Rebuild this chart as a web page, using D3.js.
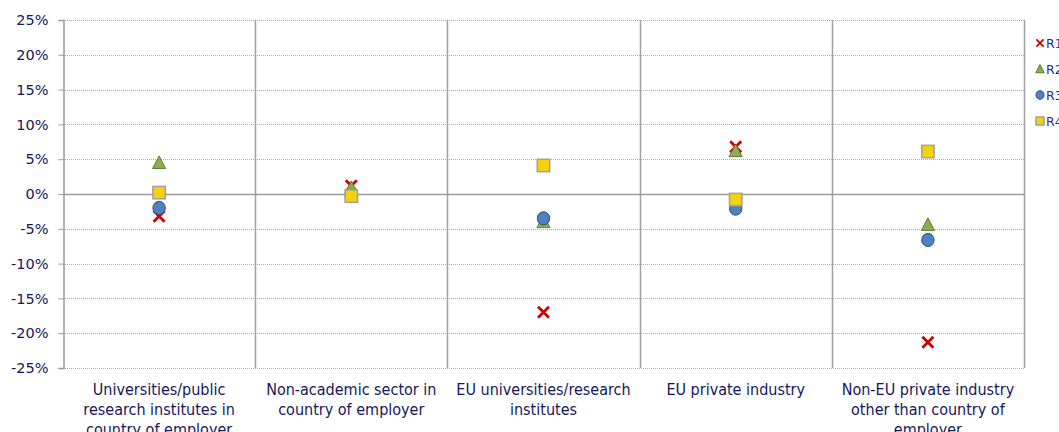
<!DOCTYPE html>
<html><head><meta charset="utf-8">
<script src="https://cdn.jsdelivr.net/npm/d3@7"></script>
<style>body{margin:0;background:#fff;} svg{display:block;}</style>
</head><body>
<svg id="c" width="1059" height="432"></svg>
<script>
const categories = [
  "Universities/public|research institutes in|country of employer",
  "Non-academic sector in|country of employer",
  "EU universities/research|institutes",
  "EU private industry",
  "Non-EU private industry|other than country of|employer"
];
const seriesNames = ["R1", "R2", "R3", "R4"];
const R1 = [-3.2, 1.2, -17.0, 6.8, -21.3];
const R2 = [4.5, 0.9, -4.0, 6.2, -4.4];
const R3 = [-2.0, -0.3, -3.5, -2.1, -6.6];
const R4 = [0.2, -0.3, 4.1, -0.8, 6.1];
const yTicks = [-25, -20, -15, -10, -5, 0, 5, 10, 15, 20, 25];

const seriesValues = [R1, R2, R3, R4];
const svg = d3.select("#c");
const m = {l: 63, r: 1024, t: 20, b: 368};
const x = d3.scaleBand().domain(categories).range([m.l, m.r]).padding(0);
const y = d3.scaleLinear().domain([-25, 25]).range([m.b, m.t]);
const textCol = "#16165a";

// horizontal gridlines
svg.append("g").selectAll("line").data(yTicks).join("line")
  .attr("x1", m.l).attr("x2", m.r)
  .attr("y1", d => Math.round(y(d)) + 0.5).attr("y2", d => Math.round(y(d)) + 0.5)
  .attr("stroke", d => d === 0 ? "#9a9a9a" : "#a8a8a8")
  .attr("stroke-width", d => d === 0 ? 1.5 : 1)
  .attr("stroke-dasharray", d => d === 0 ? null : "1,1");

// vertical separators
svg.append("g").selectAll("line").data(categories).join("line")
  .attr("x1", d => Math.round(x(d) + x.bandwidth()) + 0.5)
  .attr("x2", d => Math.round(x(d) + x.bandwidth()) + 0.5)
  .attr("y1", m.t).attr("y2", m.b)
  .attr("stroke", "#a0a0a0").attr("stroke-width", 1.5);

// y axis
const yAxis = d3.axisLeft(y).tickValues(yTicks).tickSize(5).tickPadding(10)
  .tickFormat(d => d + "%");
const ga = svg.append("g").attr("transform", `translate(${m.l + 0.5},0)`).call(yAxis);
ga.select(".domain").attr("stroke", "#9a9a9a").attr("stroke-width", 1.5);
ga.selectAll(".tick line").attr("stroke", "#9a9a9a");
ga.selectAll(".tick text").attr("fill", textCol)
  .style("font-family", "Verdana, 'DejaVu Sans', sans-serif").style("font-size", "14.5px");

// category labels
const gl = svg.append("g");
categories.forEach(c => {
  const lines = c.split("|");
  const t = gl.append("text").attr("x", x(c) + x.bandwidth() / 2).attr("y", 395)
    .attr("text-anchor", "middle").attr("fill", textCol)
    .style("font-family", "'DejaVu Sans Condensed', 'Liberation Sans Narrow', sans-serif")
    .style("font-size", "16px");
  lines.forEach((ln, i) => {
    t.append("tspan").attr("x", x(c) + x.bandwidth() / 2).attr("dy", i === 0 ? 0 : 20).text(ln);
  });
});

// marker drawing
function marker(g, s, cx, cy, scale) {
  const k = scale || 1;
  if (s === 0) {
    const a = 5.5 * k;
    g.append("path").attr("d", `M${cx - a},${cy - a}L${cx + a},${cy + a}M${cx - a},${cy + a}L${cx + a},${cy - a}`)
      .attr("stroke", "#d00000").attr("stroke-width", 2.8 * k).attr("fill", "none");
  } else if (s === 1) {
    const w = 6.5 * k, h = 6.8 * k;
    g.append("path").attr("d", `M${cx},${cy - h}L${cx + w},${cy + h * 0.85}L${cx - w},${cy + h * 0.85}Z`)
      .attr("fill", "#8fac50").attr("stroke", "#5e7a30").attr("stroke-width", 1);
  } else if (s === 2) {
    g.append("ellipse").attr("cx", cx).attr("cy", cy).attr("rx", 6.2 * k).attr("ry", 6.6 * k)
      .attr("fill", "#4f81bd").attr("stroke", "#2d4e7a").attr("stroke-width", 1);
  } else {
    const a = 6.2 * k;
    g.append("rect").attr("x", cx - a).attr("y", cy - a).attr("width", 2 * a).attr("height", 2 * a)
      .attr("fill", "#f5d20f").attr("stroke", "#a0a0a0").attr("stroke-width", 1.5);
  }
}

const gm = svg.append("g");
seriesValues.forEach((vals, s) => {
  vals.forEach((v, i) => {
    marker(gm, s, x(categories[i]) + x.bandwidth() / 2, y(v));
  });
});

// legend
const lg = svg.append("g");
seriesNames.forEach((n, i) => {
  const ly = 43 + i * 26;
  marker(lg, i, 1040, ly, 0.65);
  lg.append("text").attr("x", 1046).attr("y", ly + 4.5).text(n)
    .attr("fill", "#2a2a9a")
    .style("font-family", "Verdana, 'DejaVu Sans', sans-serif").style("font-size", "12.5px");
});
</script>
</body></html>
